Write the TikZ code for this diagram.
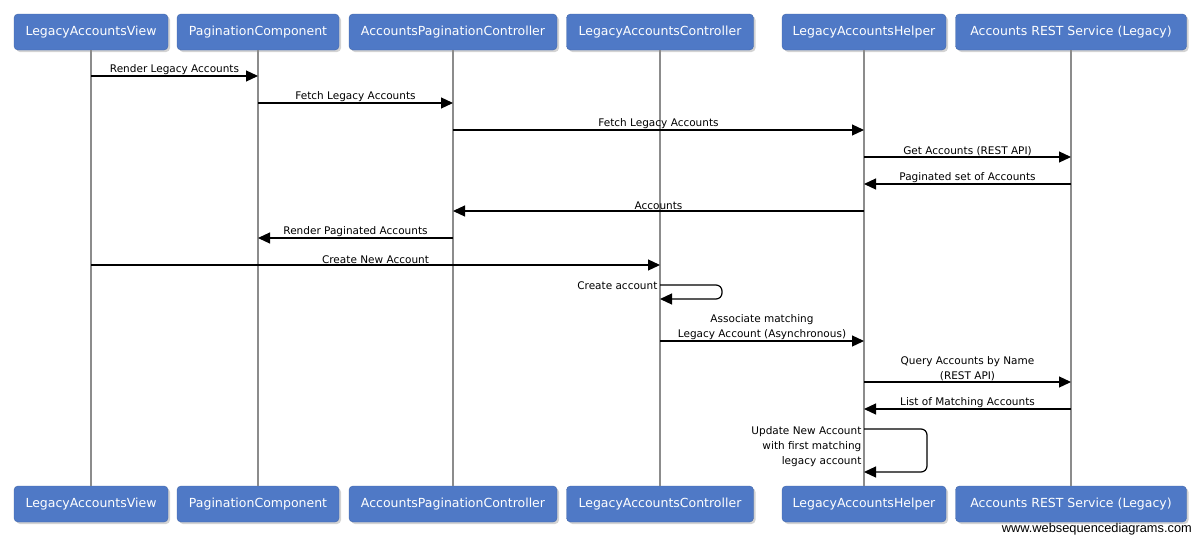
\documentclass[tikz,border=0pt]{standalone}
\usepackage{fontspec}
\setmainfont{DejaVu Sans}
\newfontfamily\wmfont{Liberation Sans}
\usetikzlibrary{arrows.meta}
\usetikzlibrary{positioning}
\usetikzlibrary{shadows}
\definecolor{boxblue}{RGB}{79,121,198}
\definecolor{lifegray}{RGB}{140,140,140}
\tikzstyle{actor} = [draw=boxblue!85!black, fill=boxblue, rounded corners=4pt,
text=white, minimum height=36pt, inner xsep=4pt,
font=\fontsize{12.5}{14}\selectfont,
drop shadow={shadow xshift=2pt, shadow yshift=-2pt, opacity=0.35}]
\tikzstyle{line} = [draw, line width=1.2pt, -{Triangle[length=12pt,width=11pt]}]
\tikzstyle{life} = [draw=lifegray, line width=1.5pt]
\tikzstyle{lbl} = [font=\fontsize{10.5}{15}\selectfont, inner sep=0.5pt, align=center]
\begin{document}
\begin{tikzpicture}[x=1pt, y=-1pt]
		\useasboundingbox (0,0) rectangle (1200,544);
		%% Participants
		\node [actor, minimum width=154pt] (viewT) at (91,32) {LegacyAccountsView};
		\node [actor, minimum width=162pt] (compT) at (258,32) {PaginationComponent};
		\node [actor, minimum width=208pt] (pctrlT) at (453,32) {AccountsPaginationController};
		\node [actor, minimum width=187pt] (ctrlT) at (660,32) {LegacyAccountsController};
		\node [actor, minimum width=164pt] (helpT) at (864,32) {LegacyAccountsHelper};
		\node [actor, minimum width=231pt] (restT) at (1071,32) {Accounts REST Service (Legacy)};
		\node [actor, minimum width=154pt] (viewB) at (91,504) {LegacyAccountsView};
		\node [actor, minimum width=162pt] (compB) at (258,504) {PaginationComponent};
		\node [actor, minimum width=208pt] (pctrlB) at (453,504) {AccountsPaginationController};
		\node [actor, minimum width=187pt] (ctrlB) at (660,504) {LegacyAccountsController};
		\node [actor, minimum width=164pt] (helpB) at (864,504) {LegacyAccountsHelper};
		\node [actor, minimum width=231pt] (restB) at (1071,504) {Accounts REST Service (Legacy)};
		\node [anchor=east, font=\wmfont\fontsize{12.8}{14}\selectfont, inner sep=0pt] (wsd) at (1192,529) {www.websequencediagrams.com};
		%% Lifelines
		\path [life] (viewT) -- (viewB);
		\path [life] (compT) -- (compB);
		\path [life] (pctrlT) -- (pctrlB);
		\path [life] (ctrlT) -- (ctrlB);
		\path [life] (helpT) -- (helpB);
		\path [life] (restT) -- (restB);
		%% Messages
		\path [line] (viewT |- 0,76) -- node [lbl, above] {Render Legacy Accounts} (compT |- 0,76);
		\path [line] (compT |- 0,103) -- node [lbl, above] {Fetch Legacy Accounts} (pctrlT |- 0,103);
		\path [line] (pctrlT |- 0,130) -- node [lbl, above] {Fetch Legacy Accounts} (helpT |- 0,130);
		\path [line] (helpT |- 0,157) -- node [lbl, above] {Get Accounts (REST API)} (restT |- 0,157);
		\path [line] (restT |- 0,184) -- node [lbl, above] {Paginated set of Accounts} (helpT |- 0,184);
		\path [line] (helpT |- 0,211) -- node [lbl, above] {Accounts} (pctrlT |- 0,211);
		\path [line] (pctrlT |- 0,238) -- node [lbl, above] {Render Paginated Accounts} (compT |- 0,238);
		\path [line] (viewT |- 0,265) -- node [lbl, above] {Create New Account} (ctrlT |- 0,265);
		\path [line, rounded corners=6pt] (ctrlT |- 0,285) node [lbl, left, inner sep=2pt, yshift=-1pt] {Create account}
			-- ++(62,0) -- ++(0,14) -- (ctrlT |- 0,299);
		\path [line] (ctrlT |- 0,341) -- node [lbl, above] {Associate matching\\Legacy Account (Asynchronous)} (helpT |- 0,341);
		\path [line] (helpT |- 0,382) -- node [lbl, above] {Query Accounts by Name\\(REST API)} (restT |- 0,382);
		\path [line] (restT |- 0,409) -- node [lbl, above] {List of Matching Accounts} (helpT |- 0,409);
		\path [line, rounded corners=6pt] (helpT |- 0,429) node [lbl, below left, align=right, inner sep=2pt, yshift=5pt] {Update New Account\\with first matching\\legacy account}
			-- ++(63,0) -- ++(0,43) -- (helpT |- 0,472);
\end{tikzpicture}
\end{document}
